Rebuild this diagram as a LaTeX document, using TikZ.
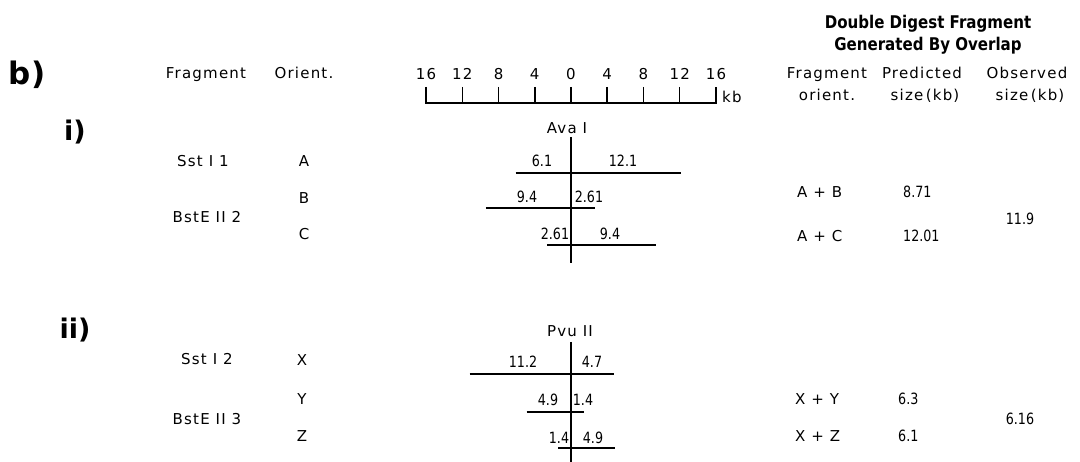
\documentclass[tikz,border=0pt]{standalone}
\usepackage{fontspec}
\setmainfont{DejaVu Sans}[LetterSpace=8]
\newfontfamily\numfont{DejaVu Sans}[FakeStretch=0.82]
\newfontfamily\headfont{DejaVu Sans}[FakeStretch=0.86]
\newfontfamily\plainfont{DejaVu Sans}
\usetikzlibrary{positioning}

\begin{document}
\begin{tikzpicture}[
    x=1pt, y=-1pt,
    font=\fontsize{15}{18}\selectfont,
    lbl/.style={
        inner sep=0pt,
        anchor=base
    },
    value/.style={
        inner sep=0pt,
        anchor=base,
        font=\numfont\fontsize{15.5}{18}\selectfont
    },
    header/.style={
        inner sep=0pt,
        anchor=base,
        font=\headfont\fontsize{17.5}{20}\selectfont\bfseries
    },
    partlabel/.style={
        inner sep=0pt,
        font=\plainfont\fontsize{27}{30}\selectfont\bfseries
    },
    frag/.style={
        draw=black,
        line width=1.6pt
    },
    cut/.style={
        draw=black,
        line width=2.2pt
    },
    ruler/.style={
        draw=black,
        line width=1.5pt
    }
]

\useasboundingbox (0,0) rectangle (1080,462);

% ================= COLUMN HEADERS =================
\node[partlabel, font=\plainfont\fontsize{31}{34}\selectfont\bfseries] (partb) at (27,75) {b)};
\node[lbl] (hfrag) at (206,79) {Fragment};
\node[lbl] (horient) at (304,79) {Orient.};

\node[header] (dd1) at (928,29) {Double Digest Fragment};
\node[header] (dd2) at (928,51) {Generated By Overlap};
\node[lbl] (hfo1) at (827,79) {Fragment};
\node[lbl] (hfo2) at (827,101) {orient.};
\node[lbl] (hpr1) at (922,79) {Predicted};
\node[lbl] (hpr2) at (925,101) {size\,(kb)};
\node[lbl] (hob1) at (1027,79) {Observed};
\node[lbl] (hob2) at (1030,101) {size\,(kb)};

% ================= SCALE BAR =================
\begin{scope}[shift={(571,0)}, x=9.06pt]
    \draw[ruler] (-16,87) -- (-16,103) -- (16,103) -- (16,87);
    \foreach \k in {-12,-8,...,12}
        \draw[ruler] (\k,87) -- (\k,103);
    \foreach \k/\t in {-16/16,-12/12,-8/8,-4/4,0/0,4/4,8/8,12/12,16/16}
        \node[lbl] (s\t\k) at (\k,80) {\t};
\end{scope}
\node[lbl, anchor=base west] (kb) at (722,103) {kb};

% ================= PART i =================
\node[partlabel] (parti) at (75,132) {i)};
\node[lbl] (avai) at (567,134) {Ava I};

\node[lbl] (sst1) at (203,167) {Sst I 1};
\node[lbl] (bste2) at (207,223) {BstE II 2};
\node[lbl] (oa) at (304,167) {A};
\node[lbl] (ob) at (304,204) {B};
\node[lbl] (oc) at (304,240) {C};

\begin{scope}[shift={(571,0)}, x=9.06pt]
    \draw[cut] (0,137) -- (0,263);
    \draw[frag] (-6.1,173) -- (12.1,173);
    \draw[frag] (-9.4,208) -- (2.61,208);
    \draw[frag] (-2.61,245) -- (9.4,245);
\end{scope}
\node[value] (a-l) at (542,167) {6.1};
\node[value] (a-r) at (623,167) {12.1};
\node[value] (b-l) at (527,203) {9.4};
\node[value] (b-r) at (589,203) {2.61};
\node[value] (c-l) at (555,240) {2.61};
\node[value] (c-r) at (610,240) {9.4};

\node[lbl, anchor=base west] (ab) at (797,198) {A + B};
\node[lbl, anchor=base west] (ac) at (797,242) {A + C};
\node[value, anchor=base west] (pab) at (903,198) {8.71};
\node[value, anchor=base west] (pac) at (903,242) {12.01};
\node[value] (obs1) at (1020,225) {11.9};

% ================= PART ii =================
\node[partlabel] (partii) at (75,330) {ii)};
\node[lbl] (pvuii) at (570,337) {Pvu II};

\node[lbl] (sst2) at (207,365) {Sst I 2};
\node[lbl] (bste3) at (207,425) {BstE II 3};
\node[lbl] (ox) at (302,366) {X};
\node[lbl] (oy) at (302,405) {Y};
\node[lbl] (oz) at (302,442) {Z};

\begin{scope}[shift={(571,0)}, x=9.06pt]
    \draw[cut] (0,342) -- (0,462);
    \draw[frag] (-11.2,374) -- (4.7,374);
    \draw[frag] (-4.9,412) -- (1.4,412);
    \draw[frag] (-1.4,448) -- (4.9,448);
\end{scope}
\node[value] (x-l) at (523,368) {11.2};
\node[value] (x-r) at (592,368) {4.7};
\node[value] (y-l) at (548,406) {4.9};
\node[value] (y-r) at (583,406) {1.4};
\node[value] (z-l) at (559,443) {1.4};
\node[value] (z-r) at (593,443) {4.9};

\node[lbl, anchor=base west] (xy) at (795,405) {X + Y};
\node[lbl, anchor=base west] (xz) at (795,442) {X + Z};
\node[value, anchor=base west] (pxy) at (898,405) {6.3};
\node[value, anchor=base west] (pxz) at (898,442) {6.1};
\node[value] (obs2) at (1020,425) {6.16};

\end{tikzpicture}
\end{document}
